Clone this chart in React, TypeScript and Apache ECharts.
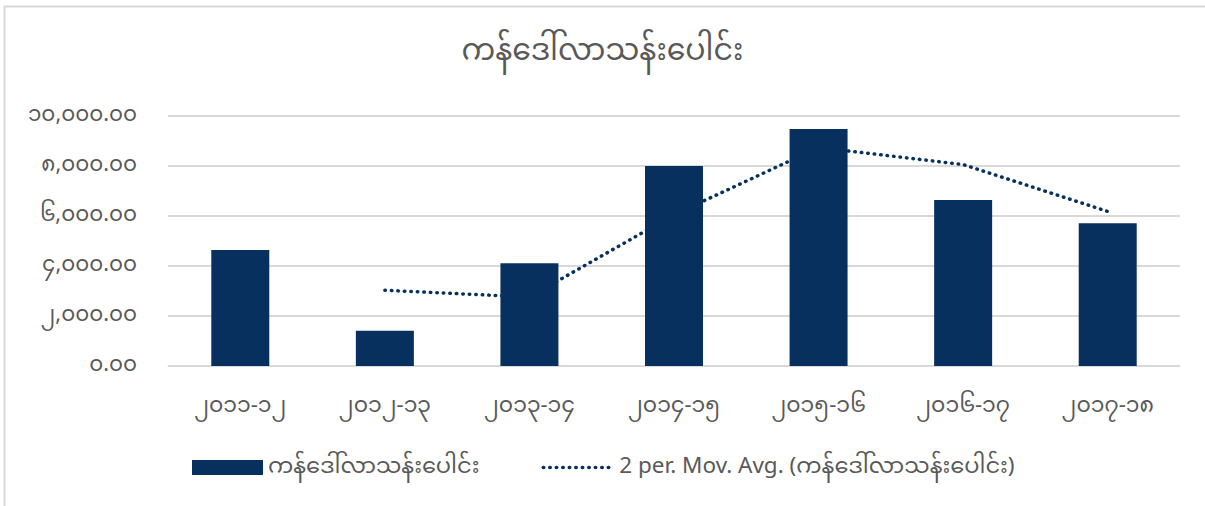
import React, { useEffect, useRef } from "react";
import * as echarts from "echarts";

const titleText = "ကန်ဒေါ်လာသန်းပေါင်း";
const categories = ["၂၀၁၁-၁၂", "၂၀၁၂-၁၃", "၂၀၁၃-၁၄", "၂၀၁၄-၁၅", "၂၀၁၅-၁၆", "၂၀၁၆-၁၇", "၂၀၁၇-၁၈"];
const barValues = [4640, 1410, 4110, 8000, 9480, 6640, 5710];
const movingAvgValues: (number | null)[] = [null, 3030, 2760, 6050, 8740, 8060, 6180];
const yTickLabels = ["၀.၀၀", "၂,၀၀၀.၀၀", "၄,၀၀၀.၀၀", "၆,၀၀၀.၀၀", "၈,၀၀၀.၀၀", "၁၀,၀၀၀.၀၀"];
const barName = "ကန်ဒေါ်လာသန်းပေါင်း";
const lineName = "2 per. Mov. Avg. (ကန်ဒေါ်လာသန်းပေါင်း)";

const FONT = '"Noto Sans Myanmar", "Padauk", "Myanmar Text", "Noto Sans", sans-serif';
const TEXT = "#595959";
const NAVY = "#08305f";

export default function App() {
  const ref = useRef<HTMLDivElement>(null);
  useEffect(() => {
    document.body.style.margin = "0";
    const chart = echarts.init(ref.current!, null, { renderer: "svg" });
    chart.setOption({
      animation: false,
      backgroundColor: "#ffffff",
      textStyle: { fontFamily: FONT },
      title: {
        text: titleText,
        left: "center",
        top: 33,
        textStyle: { fontFamily: FONT, fontSize: 30, fontWeight: "normal", color: TEXT },
      },
      graphic: [
        {
          type: "rect",
          shape: { x: 4.5, y: 6.5, width: 1260, height: 600 },
          style: { fill: "none", stroke: "#d9d9d9", lineWidth: 2 },
          silent: true,
        },
      ],
      grid: { left: 168, right: 25, top: 116, bottom: 140 },
      legend: {
        bottom: 22,
        left: 187,
        itemGap: 62,
        itemWidth: 71,
        itemHeight: 15,
        textStyle: { fontFamily: FONT, fontSize: 22.5, color: TEXT },
        data: [
          { name: barName, icon: "rect" },
          {
            name: lineName,
            itemStyle: { opacity: 0 },
            lineStyle: { color: NAVY, width: 3.5, type: [0.5, 6], cap: "round" },
          },
        ],
      },
      xAxis: {
        type: "category",
        data: categories,
        axisLine: { lineStyle: { color: "#d9d9d9", width: 1 } },
        axisTick: { show: false },
        axisLabel: { color: TEXT, fontSize: 22, fontFamily: FONT, margin: 30 },
      },
      yAxis: {
        type: "value",
        min: 0,
        max: 10000,
        interval: 2000,
        axisLine: { show: false },
        axisTick: { show: false },
        splitLine: { lineStyle: { color: "#d9d9d9", width: 2 } },
        axisLabel: {
          color: TEXT,
          fontSize: 21.5,
          fontFamily: FONT,
          margin: 31,
          formatter: (v: number) => yTickLabels[Math.round(v / 2000)] ?? String(v),
        },
      },
      series: [
        {
          name: lineName,
          type: "line",
          data: movingAvgValues,
          z: 1,
          symbol: "none",
          showSymbol: false,
          connectNulls: false,
          lineStyle: { color: NAVY, width: 3.5, type: [0.5, 6], cap: "round" },
          itemStyle: { color: NAVY },
        },
        {
          name: barName,
          type: "bar",
          data: barValues,
          z: 3,
          barWidth: 58,
          itemStyle: { color: NAVY },
        },
      ],
    });
    return () => chart.dispose();
  }, []);
  return <div ref={ref} style={{ position: "absolute", left: 0, top: 0, width: 1205, height: 506 }} />;
}
